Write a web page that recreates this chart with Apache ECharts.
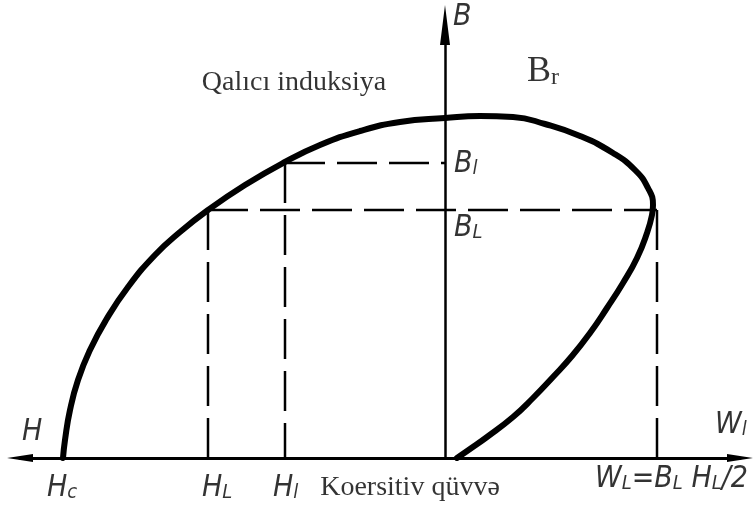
<!DOCTYPE html>
<html>
<head>
<meta charset="utf-8">
<script src="https://cdn.jsdelivr.net/npm/echarts@6/dist/echarts.min.js"></script>
<style>
  html, body { margin: 0; padding: 0; background: #fff; }
  #chart { width: 753px; height: 518px; }
</style>
</head>
<body>
<div id="chart"></div>
<script>
// ——— curve (H to the left is negative, B up) ———
// demagnetisation branch Hc -> Br, then the energy branch W back to the origin
const curveH = [-38.2, -38.0, -37.5, -36.7, -35.5, -33.9, -31.7, -29.0, -26.5, -23.7,
                -20.0, -16.2, -12.5, -8.5, -4.5, 0, 3.5, 6.8, 10.0, 13.5,
                16.8, 19.0, 20.3, 20.8, 20.7, 20.2, 19.2, 17.8, 16.2, 14.5,
                12.7, 10.8, 8.8, 6.8, 4.2, 2.5, 1.2];
const curveB = [0, 1.8, 4.8, 7.8, 10.8, 13.8, 17.1, 20.3, 22.6, 24.8,
                27.3, 29.5, 31.3, 32.7, 33.6, 34.0, 34.2, 34.1, 33.4, 32.2,
                30.5, 28.8, 27.0, 25.3, 24.3, 22.5, 20.0, 17.5, 15.0, 12.5,
                10.2, 8.1, 6.0, 4.1, 2.1, 0.9, 0];

// working points
const HL = -23.7, BL = 24.8;
const Hl = -16.0, Bl = 29.5;
const WL = 21.2;

// label texts (rich text markup)
const labelTexts = [
  '{m|B}', '{big|B}{sub|r}', '{t|Qalıcı induksiya}',
  '{m|B}{s|l}', '{m|B}{s|L}',
  '{m|H}', '{m|H}{s|c}', '{m|H}{s|L}', '{m|H}{s|l}',
  '{t|Koersitiv qüvvə}',
  '{m|W}{s|l}', '{m|W}{s|L}{m|=B}{s|L}{m| H}{s|L}{m|/2}'
];
// where each label sits (top anchor, chart units) and how it is aligned
const labelAt = [
  [0.8, 45.6], [8.2, 40.4], [-15.1, 38.9],
  [0.9, 30.9], [0.9, 24.5],
  [-42.3, 4.1], [-39.8, -1.5], [-24.3, -1.5], [-17.2, -1.5],
  [-3.5, -1.6],
  [27.0, 4.8], [15.0, -0.6]
];
const labelAlign = ['left', 'left', 'center', 'left', 'left', 'left', 'left', 'left', 'left', 'center', 'left', 'left'];

const HAND = '"DejaVu Sans Condensed", "DejaVu Sans", sans-serif';
const SERIF = '"Liberation Serif", "Times New Roman", serif';

const rich = {
  m:   { fontFamily: HAND, fontStyle: 'italic', fontSize: 30, lineHeight: 30, verticalAlign: 'top', color: '#000' },
  s:   { fontFamily: HAND, fontStyle: 'italic', fontSize: 20, lineHeight: 20, padding: [14, 0, 0, 0], verticalAlign: 'bottom', color: '#000' },
  t:   { fontFamily: SERIF, fontSize: 28, lineHeight: 28, verticalAlign: 'top', color: '#000' },
  big: { fontFamily: SERIF, fontSize: 36, lineHeight: 36, verticalAlign: 'top', color: '#000' },
  sub: { fontFamily: SERIF, fontSize: 24, lineHeight: 24, padding: [16, 0, 0, 0], verticalAlign: 'bottom', color: '#000' }
};

// dashed construction lines
const dashed = [
  [[Hl, Bl], [0, Bl]],
  [[HL, BL], [WL, BL]],
  [[HL, BL], [HL, 0]],
  [[Hl, Bl], [Hl, 0]],
  [[WL, BL], [WL, 0]]
];

const chart = echarts.init(document.getElementById('chart'));
chart.setOption({
  animation: false,
  backgroundColor: '#fff',
  grid: { left: 20, right: 13, top: 25, bottom: 60 },
  xAxis: {
    type: 'value', min: -42.5, max: 29.5,
    axisLine: { onZero: false, symbol: ['triangle', 'triangle'], symbolSize: [8, 26],
                lineStyle: { color: '#000', width: 3 } },
    axisTick: { show: false }, axisLabel: { show: false }, splitLine: { show: false }
  },
  yAxis: {
    type: 'value', min: 0, max: 43.3,
    axisLine: { onZero: true, symbol: ['none', 'triangle'], symbolSize: [10, 40],
                lineStyle: { color: '#000', width: 2.5 } },
    axisTick: { show: false }, axisLabel: { show: false }, splitLine: { show: false }
  },
  series: [
    ...dashed.map(seg => ({
      type: 'line', data: seg, symbol: 'none', silent: true,
      lineStyle: { color: '#000', width: 2.5, type: [40, 12] }
    })),
    {
      type: 'line', smooth: 0.5, symbol: 'none',
      data: curveH.map((h, i) => [h, curveB[i]]),
      lineStyle: { color: '#000', width: 6, cap: 'round', join: 'round' }
    },
    {
      type: 'scatter', symbolSize: 0, clip: false, silent: true,
      data: labelTexts.map((t, i) => ({
        value: labelAt[i],
        label: {
          show: true, position: 'inside', formatter: t, rich,
          align: labelAlign[i], verticalAlign: 'top'
        }
      }))
    }
  ]
});
</script>
</body>
</html>
